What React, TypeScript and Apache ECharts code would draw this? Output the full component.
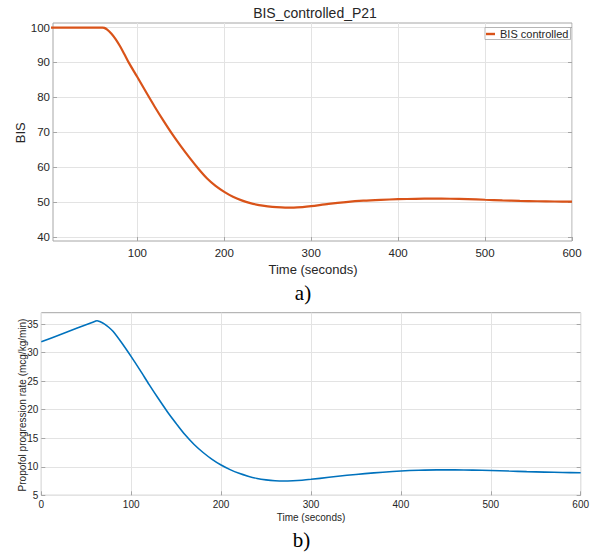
import React, { useEffect, useRef } from "react";
import * as echarts from "echarts";

// ---- Data ----
const bisTime = [0, 20, 40, 55, 60, 62, 65, 70, 75, 80, 85, 90, 100, 110, 120, 130, 140, 150, 160, 170, 180, 190, 200, 210, 220, 230, 240, 250, 260, 270, 280, 290, 300, 320, 340, 360, 380, 400, 420, 440, 460, 480, 500, 520, 540, 560, 580, 600];
const bisValues = [100, 100, 100, 100, 100, 99.9, 99.5, 98.3, 96.7, 94.7, 92.4, 90.0, 85.8, 81.5, 77.3, 73.3, 69.5, 66.0, 62.7, 59.6, 56.8, 54.6, 52.9, 51.5, 50.45, 49.65, 49.1, 48.75, 48.5, 48.38, 48.38, 48.52, 48.78, 49.42, 49.95, 50.35, 50.6, 50.78, 50.9, 50.95, 50.92, 50.8, 50.62, 50.45, 50.3, 50.2, 50.13, 50.1];

const propTime = [0, 20, 40, 55, 60, 62, 65, 70, 75, 80, 90, 100, 110, 120, 130, 140, 150, 160, 170, 180, 190, 200, 210, 220, 230, 240, 250, 260, 270, 280, 290, 300, 320, 340, 360, 380, 400, 420, 440, 460, 480, 500, 520, 540, 560, 580, 600];
const propValues = [31.9, 33.1, 34.3, 35.2, 35.5, 35.6, 35.45, 35.05, 34.45, 33.7, 31.6, 29.3, 26.9, 24.4, 22.0, 19.7, 17.6, 15.6, 13.9, 12.5, 11.3, 10.3, 9.5, 8.85, 8.35, 7.95, 7.7, 7.55, 7.5, 7.55, 7.65, 7.8, 8.15, 8.5, 8.8, 9.05, 9.25, 9.38, 9.45, 9.45, 9.42, 9.35, 9.25, 9.15, 9.07, 9.0, 8.96];

const topXTicks = [100, 200, 300, 400, 500, 600];
const topYTicks = [40, 50, 60, 70, 80, 90, 100];
const botXTicks = [0, 100, 200, 300, 400, 500, 600];
const botYTicks = [5, 10, 15, 20, 25, 30, 35];

const topTitle = "BIS_controlled_P21";
const topYLabel = "BIS";
const xLabel = "Time (seconds)";
const botYLabel = "Propofol progression rate (mcg/kg/min)";
const legendName = "BIS controlled";

const SANS = "'Liberation Sans', Arial, Helvetica, sans-serif";
const SERIF = "'Liberation Serif', 'Times New Roman', serif";
const TXT = "#262626";
const GRIDC = "#e3e3e3";
const BOXC = "#a6a6a6";

export default function App() {
  const ref = useRef<HTMLDivElement>(null);
  useEffect(() => {
    if (!ref.current) return;
    const chart = echarts.init(ref.current, null, { renderer: "svg" });

    const xAxisBase = (grid: number, min: number, ticks: number[], fs: number, margin: number) => ({
      type: "value",
      gridIndex: grid,
      min,
      max: 600,
      axisLine: { show: false },
      axisTick: { show: true, inside: true, length: 4, lineStyle: { color: BOXC }, customValues: ticks },
      axisLabel: { customValues: ticks, fontSize: fs, color: TXT, fontFamily: SANS, margin },
      splitLine: { show: true, lineStyle: { color: GRIDC, width: 1 } },
    });
    const yAxisBase = (grid: number, min: number, max: number, ticks: number[], fs: number, margin: number) => ({
      type: "value",
      gridIndex: grid,
      min,
      max,
      axisLine: { show: false },
      axisTick: { show: true, inside: true, length: 4, lineStyle: { color: BOXC }, customValues: ticks },
      axisLabel: { customValues: ticks, fontSize: fs, color: TXT, fontFamily: SANS, margin },
      splitLine: { show: true, lineStyle: { color: GRIDC, width: 1 } },
    });
    const yRight = (grid: number, min: number, max: number, ticks: number[]) => ({
      type: "value",
      gridIndex: grid,
      position: "right",
      min,
      max,
      axisLine: { show: false },
      axisTick: { show: true, inside: true, length: 4, lineStyle: { color: BOXC }, customValues: ticks },
      axisLabel: { show: false, customValues: ticks },
      splitLine: { show: false },
    });

    chart.setOption({
      animation: false,
      backgroundColor: "#ffffff",
      textStyle: { fontFamily: SANS },
      grid: [
        { left: 53, top: 23, width: 519, height: 218, show: true, borderColor: BOXC, borderWidth: 1, backgroundColor: "transparent" },
        { left: 41.3, top: 312.7, width: 540, height: 182.6, show: true, borderColor: BOXC, borderWidth: 1, backgroundColor: "transparent" },
      ],
      xAxis: [
        xAxisBase(0, 3, topXTicks, 11.5, 6),
        xAxisBase(1, 0, botXTicks, 10, 4),
      ],
      yAxis: [
        yAxisBase(0, 38.8, 101.3, topYTicks, 11.5, 3),
        yRight(0, 38.8, 101.3, topYTicks),
        yAxisBase(1, 5, 37, botYTicks, 10, 3),
        yRight(1, 5, 37, botYTicks),
      ],
      legend: {
        data: [legendName],
        left: 485,
        top: 27.5,
        orient: "vertical",
        padding: [1, 2, 0, 1],
        itemWidth: 9,
        itemHeight: 2.4,
        icon: "rect",
        borderColor: BOXC,
        borderWidth: 0.8,
        borderRadius: 0,
        backgroundColor: "#ffffff",
        textStyle: { fontSize: 11, color: TXT, fontFamily: SANS, lineHeight: 11 },
      },
      series: [
        {
          name: legendName,
          type: "line",
          xAxisIndex: 0,
          yAxisIndex: 0,
          data: bisTime.map((t, i) => [t, bisValues[i]]),
          showSymbol: false,
          smooth: 0.3,
          lineStyle: { color: "#D95319", width: 2.2 },
          itemStyle: { color: "#D95319" },
        },
        {
          name: "Propofol",
          type: "line",
          xAxisIndex: 1,
          yAxisIndex: 2,
          data: propTime.map((t, i) => [t, propValues[i]]),
          showSymbol: false,
          smooth: 0.3,
          lineStyle: { color: "#0072BD", width: 1.6 },
          itemStyle: { color: "#0072BD" },
        },
      ],
      graphic: [
        { type: "text", x: 315, y: 12.5, style: { text: topTitle, fontSize: 14, fill: TXT, fontFamily: SANS, align: "center", verticalAlign: "middle" } },
        { type: "text", x: 20.3, y: 132.7, rotation: Math.PI / 2, style: { text: topYLabel, fontSize: 13, fill: TXT, fontFamily: SANS, align: "center", verticalAlign: "middle" } },
        { type: "text", x: 313, y: 269.3, style: { text: xLabel, fontSize: 13, fill: TXT, fontFamily: SANS, align: "center", verticalAlign: "middle" } },
        { type: "text", x: 303, y: 293, style: { text: "a)", fontSize: 21, fill: "#000", fontFamily: SERIF, align: "center", verticalAlign: "middle" } },
        { type: "text", x: 22.5, y: 405, rotation: Math.PI / 2, style: { text: botYLabel, fontSize: 10, fill: TXT, fontFamily: SANS, align: "center", verticalAlign: "middle" } },
        { type: "text", x: 311, y: 517, style: { text: xLabel, fontSize: 10, fill: TXT, fontFamily: SANS, align: "center", verticalAlign: "middle" } },
        { type: "text", x: 301.5, y: 539.5, style: { text: "b)", fontSize: 21, fill: "#000", fontFamily: SERIF, align: "center", verticalAlign: "middle" } },
      ],
    });
    return () => chart.dispose();
  }, []);
  return (
    <div
      ref={ref}
      style={{ position: "fixed", left: 0, top: 0, width: 592, height: 558, background: "#fff" }}
    />
  );
}
